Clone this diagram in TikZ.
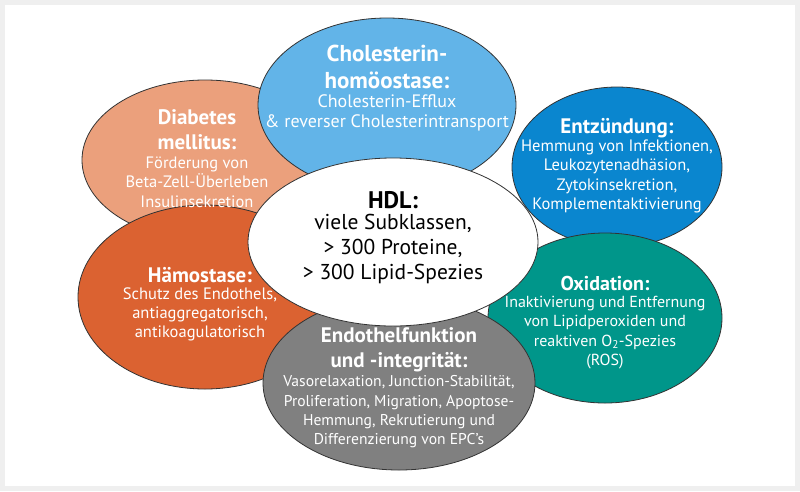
\documentclass[tikz,border=0pt]{standalone}
\usepackage{fontspec}
\setmainfont{PT Sans}
\usetikzlibrary{shapes.geometric}
\definecolor{framegray}{HTML}{EFEFEF}
\definecolor{cholc}{HTML}{62B4E8}
\definecolor{diabc}{HTML}{EBA07C}
\definecolor{entzc}{HTML}{0A86CF}
\definecolor{oxic}{HTML}{00968A}
\definecolor{haemc}{HTML}{DB6231}
\definecolor{endoc}{HTML}{808080}
\definecolor{edgec}{HTML}{333333}
\tikzset{
  blob/.style={ellipse, draw=edgec, line width=0.8pt, inner sep=0pt, outer sep=0pt},
  ttl/.style={align=center, text=white, font=\fontsize{21}{25}\selectfont\bfseries, inner sep=0pt},
  bdy/.style={align=center, text=white, font=\fontsize{16.5}{19.3}\selectfont, inner sep=0pt}
}
\begin{document}
\begin{tikzpicture}[x=1pt,y=-1pt]
\fill[framegray] (0,0) rectangle (800,491);
\fill[white] (5,5) rectangle (795,486);
\useasboundingbox (0,0) rectangle (800,491);
% ellipses
\node[blob, fill=diabc, minimum width=246pt, minimum height=160pt] (diab) at (205,160) {};
\node[blob, fill=entzc, minimum width=210pt, minimum height=160pt] (entz) at (617,167) {};
\node[blob, fill=cholc, minimum width=258pt, minimum height=174pt] (chol) at (387,105) {};
\node[blob, fill=haemc, minimum width=254pt, minimum height=184pt] (haem) at (205,297) {};
\node[blob, fill=oxic, minimum width=234pt, minimum height=170pt] (oxi) at (605,318) {};
\node[blob, fill=endoc, minimum width=272pt, minimum height=174pt] (endo) at (399,383) {};
\node[blob, fill=white, minimum width=290pt, minimum height=168pt] (hdl) at (393,242) {};
% texts
\node[ttl, font=\fontsize{23}{27}\selectfont\bfseries] (cholT) at (387,66.5) {Cholesterin-\\homöostase:};
\node[bdy, font=\fontsize{18}{20}\selectfont] (cholB) at (387,113) {Cholesterin-Efflux\\\& reverser Cholesterintransport};
\node[ttl] (diabT) at (197,129.5) {Diabetes\\mellitus:};
\node[bdy] (diabB) at (197,182) {Förderung von\\Beta-Zell-Überleben\\Insulinsekretion};
\node[ttl] (entzT) at (617,128) {Entzündung:};
\node[bdy] (entzB) at (617,176.5) {Hemmung von Infektionen,\\Leukozytenadhäsion,\\Zytokinsekretion,\\Komplementaktivierung};
\node[ttl] (haemT) at (200,275) {Hämostase:};
\node[bdy] (haemB) at (200,314.5) {Schutz des Endothels,\\antiaggregatorisch,\\antikoagulatorisch};
\node[ttl, font=\fontsize{20}{25}\selectfont\bfseries] (oxiT) at (605,283) {Oxidation:};
\node[bdy, font=\fontsize{16}{19.3}\selectfont] (oxiB) at (605,332.5) {Inaktivierung und Entfernung\\von Lipidperoxiden und\\reaktiven O\textsubscript{2}-Spezies\\(ROS)};
\node[ttl] (endoT) at (399,350) {Endothelfunktion\\und -integrität:};
\node[bdy, font=\fontsize{15.6}{19.3}\selectfont] (endoB) at (399,412) {Vasorelaxation, Junction-Stabilität,\\Proliferation, Migration, Apoptose-\\Hemmung, Rekrutierung und\\Differenzierung von EPC’s};
\node[ttl, text=black, font=\fontsize{24}{26}\selectfont\bfseries] (hdlT) at (393,200) {HDL:};
\node[bdy, text=black, font=\fontsize{21.5}{25}\selectfont] (hdlB) at (393,249) {viele Subklassen,\\> 300 Proteine,\\> 300 Lipid-Spezies};
\end{tikzpicture}
\end{document}
